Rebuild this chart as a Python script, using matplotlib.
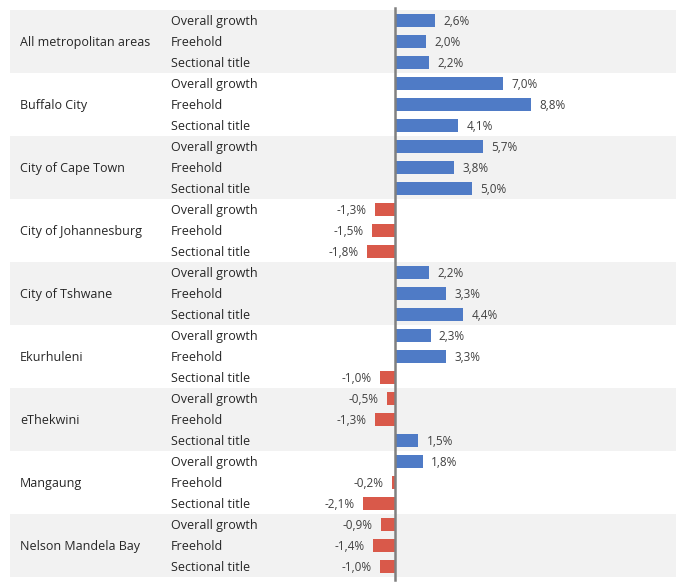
import matplotlib
matplotlib.use("Agg")
import matplotlib.pyplot as plt

plt.rcParams['font.family'] = ['Open Sans', 'DejaVu Sans']

regions = ["All metropolitan areas", "Buffalo City", "City of Cape Town",
           "City of Johannesburg", "City of Tshwane", "Ekurhuleni",
           "eThekwini", "Mangaung", "Nelson Mandela Bay"]
kinds = ["Overall growth", "Freehold", "Sectional title"]

overall = [2.6, 7.0, 5.7, -1.3, 2.2, 2.3, -0.5, 1.8, -0.9]
freehold = [2.0, 8.8, 3.8, -1.5, 3.3, 3.3, -1.3, -0.2, -1.4]
sectional = [2.2, 4.1, 5.0, -1.8, 4.4, -1.0, 1.5, -2.1, -1.0]

blue = '#4f7bc6'
red = '#d9594a'

values = []
for a, b, c in zip(overall, freehold, sectional):
    values += [a, b, c]
rows = list(range(len(values)))

fig = plt.figure(figsize=(6.8, 5.84), dpi=100)
ax = fig.add_axes([0, 0, 1, 1])

px = 15.45  # pixels per percentage point
ax.set_xlim(-395 / px, 285 / px)
ax.set_ylim(-0.5 + 574 / 21, -0.5 - 10 / 21)
ax.axis('off')

# shaded bands for alternate groups
for g in range(len(regions)):
    if g % 2 == 0:
        ax.axhspan(3 * g - 0.5, 3 * g + 2.5, xmin=10 / 680, xmax=676 / 680,
                   color='#f2f2f2', lw=0, zorder=0)

colors = [blue if v >= 0 else red for v in values]
ax.barh(rows, values, height=0.58, color=colors, zorder=2)

# zero line
ax.plot([0, 0], [-0.5 - 2 / 21, 26.5 + 3 / 21], color='#808080', lw=1.8, zorder=3)

for r, v in zip(rows, values):
    lab = f"{v:.1f}%".replace('.', ',')
    if v >= 0:
        ax.annotate(lab, (v, r + 0.05), xytext=(6, 0), textcoords='offset points',
                    ha='left', va='center', fontsize=8.5, color='#404040')
    else:
        ax.annotate(lab, (v, r + 0.05), xytext=(-6, 0), textcoords='offset points',
                    ha='right', va='center', fontsize=8.5, color='#404040')

trans = ax.get_yaxis_transform()
for g, name in enumerate(regions):
    ax.text(20 / 680, 3 * g + 1.05, name, transform=trans, ha='left', va='center',
            fontsize=9, color='#262626')
    for k, kind in enumerate(kinds):
        ax.text(171 / 680, 3 * g + k + 0.05, kind, transform=trans, ha='left',
                va='center', fontsize=9, color='#262626')

fig.savefig('out.png', dpi=100)
